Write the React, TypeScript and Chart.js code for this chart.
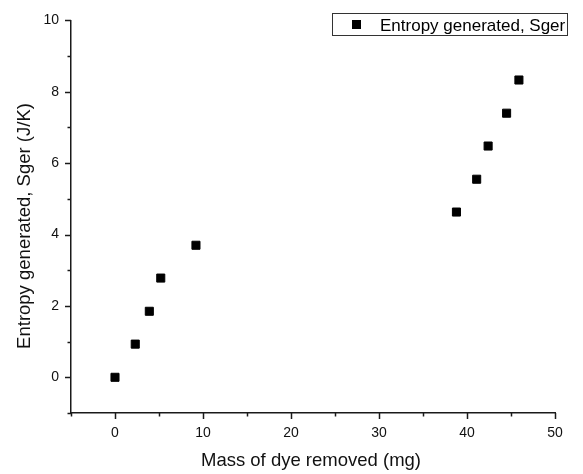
import React, { useEffect, useRef } from "react";
import { Chart, registerables } from "chart.js";

Chart.register(...registerables);

const massRemoved = [0, 2.3, 3.9, 5.2, 9.2, 38.8, 41.1, 42.4, 44.5, 45.9];
const entropyGenerated = [0, 0.93, 1.85, 2.78, 3.7, 4.63, 5.55, 6.48, 7.4, 8.33];

const xTickValues = [0, 10, 20, 30, 40, 50];
const yTickValues = [0, 2, 4, 6, 8, 10];
const X_MIN = -5;
const X_MAX = 50;
const X_MINOR = 5;
const Y_MIN = -1;
const Y_MAX = 10;
const Y_MINOR = 1;

const seriesLabel = "Entropy generated, Sger";
const xTitle = "Mass of dye removed (mg)";
const yTitle = "Entropy generated, Sger (J/K)";

const FONT = "'Liberation Sans', Arial, sans-serif";
const INK = "#1a1a1a";

const decorPlugin = {
  id: "decor",
  afterDraw(chart: any) {
    const ctx = chart.ctx as CanvasRenderingContext2D;
    const xs = chart.scales.x;
    const ys = chart.scales.y;
    const area = chart.chartArea;
    ctx.save();
    ctx.strokeStyle = INK;
    ctx.lineWidth = 1.5;
    // x ticks
    for (let v = X_MIN; v <= X_MAX + 1e-9; v += X_MINOR) {
      const px = Math.round(xs.getPixelForValue(v)) + 0.5;
      const len = xTickValues.includes(v) ? 6 : 3.5;
      ctx.beginPath();
      ctx.moveTo(px, area.bottom);
      ctx.lineTo(px, area.bottom + len);
      ctx.stroke();
    }
    // y ticks
    for (let v = Y_MIN; v <= Y_MAX + 1e-9; v += Y_MINOR) {
      const py = Math.round(ys.getPixelForValue(v)) + 0.5;
      const len = yTickValues.includes(v) ? 6 : 3.5;
      ctx.beginPath();
      ctx.moveTo(area.left, py);
      ctx.lineTo(area.left - len, py);
      ctx.stroke();
    }
    // axis titles
    ctx.fillStyle = "#111";
    ctx.font = `18.5px ${FONT}`;
    ctx.textAlign = "center";
    ctx.textBaseline = "alphabetic";
    ctx.fillText(xTitle, 311, 466);
    ctx.save();
    ctx.translate(30, 226);
    ctx.rotate(-Math.PI / 2);
    ctx.fillText(yTitle, 0, 0);
    ctx.restore();
    // legend
    ctx.lineWidth = 1;
    ctx.strokeStyle = "#333";
    ctx.strokeRect(332.5, 13.5, 235, 22);
    ctx.fillStyle = "#000";
    ctx.fillRect(352, 20, 9, 9);
    ctx.font = `17px ${FONT}`;
    ctx.textAlign = "left";
    ctx.fillText(seriesLabel, 380, 30.5);
    ctx.restore();
  },
};

export default function App() {
  const ref = useRef<HTMLCanvasElement | null>(null);
  useEffect(() => {
    if (!ref.current) return;
    const chart = new Chart(ref.current, {
      type: "scatter",
      data: {
        datasets: [
          {
            label: seriesLabel,
            data: massRemoved.map((m, i) => ({ x: m, y: entropyGenerated[i] })),
            pointStyle: "rect",
            pointRadius: 5.7,
            pointBorderWidth: 1,
            backgroundColor: "#000",
            borderColor: "#000",
            showLine: false,
          },
        ],
      },
      options: {
        animation: false,
        responsive: false,
        devicePixelRatio: 1,
        layout: { padding: { top: 15, right: 28, left: 0, bottom: 0 } },
        plugins: {
          legend: { display: false },
          tooltip: { enabled: false },
          title: { display: false },
        },
        scales: {
          x: {
            type: "linear",
            min: X_MIN,
            max: X_MAX,
            afterBuildTicks: (s: any) => {
              s.ticks = xTickValues.map((v) => ({ value: v }));
            },
            afterFit: (s: any) => {
              s.height = 61;
            },
            grid: { display: false, drawTicks: false },
            border: { display: true, color: INK, width: 1.5 },
            ticks: {
              font: { family: FONT, size: 14 },
              color: "#111",
              padding: 12,
              maxRotation: 0,
            },
          },
          y: {
            type: "linear",
            min: Y_MIN,
            max: Y_MAX,
            afterBuildTicks: (s: any) => {
              s.ticks = yTickValues.map((v) => ({ value: v }));
            },
            afterFit: (s: any) => {
              s.width = 71;
            },
            grid: { display: false, drawTicks: false },
            border: { display: true, color: INK, width: 1.5 },
            ticks: {
              font: { family: FONT, size: 14 },
              color: "#111",
              padding: 12,
            },
          },
        },
      },
      plugins: [decorPlugin],
    });
    return () => chart.destroy();
  }, []);
  return (
    <div style={{ position: "fixed", left: 0, top: 0, width: 583, height: 474, background: "#fff" }}>
      <canvas ref={ref} width={583} height={474} />
    </div>
  );
}
